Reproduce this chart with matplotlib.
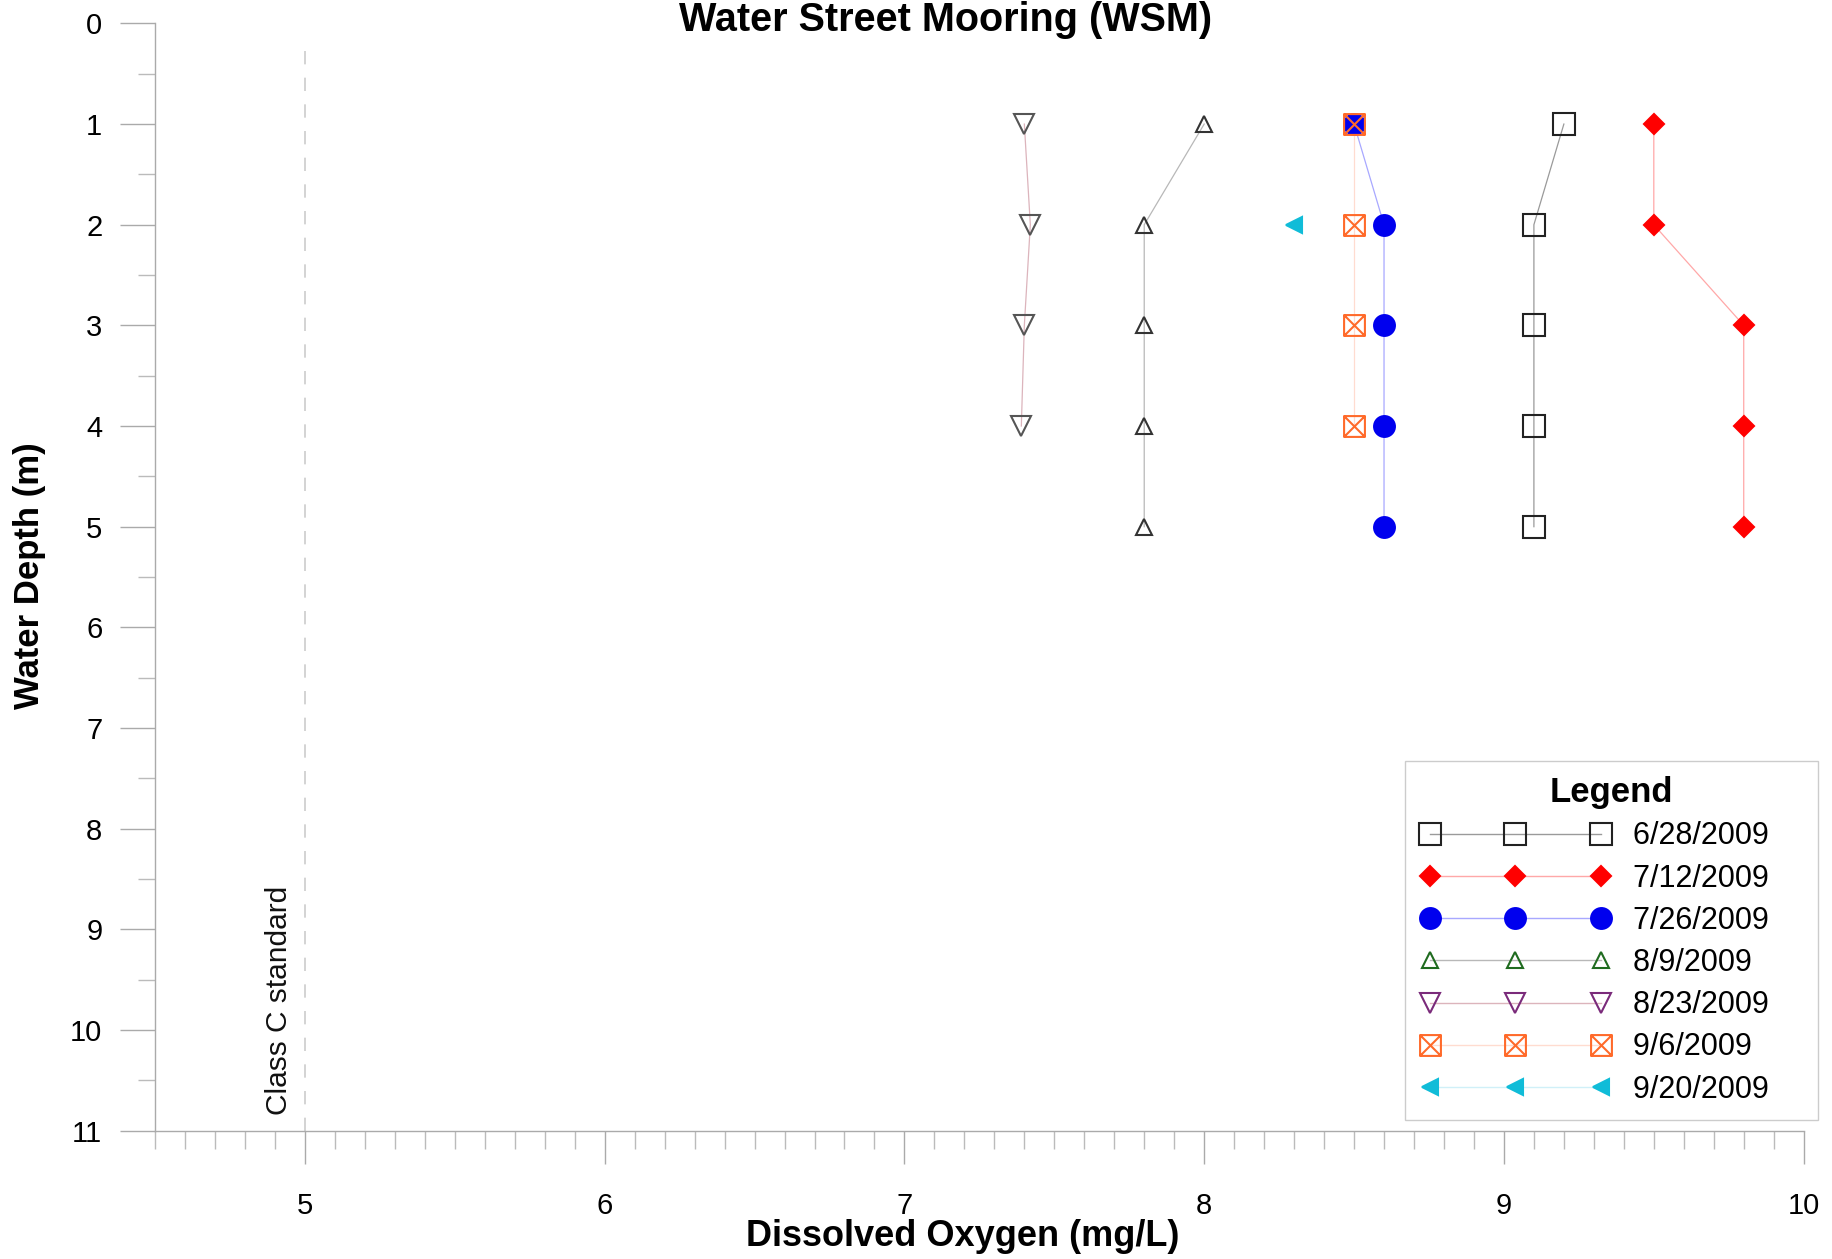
import numpy as np
import matplotlib
matplotlib.use("Agg")
import matplotlib.pyplot as plt
from matplotlib.path import Path
from matplotlib.lines import Line2D

plt.rcParams['font.family'] = ['Liberation Sans', 'DejaVu Sans']

# depth (m) for each survey and dissolved oxygen (mg/L)
dates = ["6/28/2009", "7/12/2009", "7/26/2009", "8/9/2009",
         "8/23/2009", "9/6/2009", "9/20/2009"]
depth_0628 = [1, 2, 3, 4, 5]
do_0628 = [9.2, 9.1, 9.1, 9.1, 9.1]
depth_0712 = [1, 2, 3, 4, 5]
do_0712 = [9.5, 9.5, 9.8, 9.8, 9.8]
depth_0726 = [1, 2, 3, 4, 5]
do_0726 = [8.5, 8.6, 8.6, 8.6, 8.6]
depth_0809 = [1, 2, 3, 4, 5]
do_0809 = [8.0, 7.8, 7.8, 7.8, 7.8]
depth_0823 = [1, 2, 3, 4]
do_0823 = [7.4, 7.42, 7.4, 7.39]
depth_0906 = [1, 2, 3, 4]
do_0906 = [8.5, 8.5, 8.5, 8.5]
depth_0920 = [2]
do_0920 = [8.3]

class_c_standard = 5.0

# square with an X through it
boxtimes = Path(
    [(-1, -1), (1, -1), (1, 1), (-1, 1), (-1, -1), (-1, -1), (1, 1), (-1, 1), (1, -1)],
    [Path.MOVETO, Path.LINETO, Path.LINETO, Path.LINETO, Path.CLOSEPOLY,
     Path.MOVETO, Path.LINETO, Path.MOVETO, Path.LINETO])

# (x, y, marker, marker colour in plot, fill, line colour, size, legend marker colour)
series = [
    (do_0628, depth_0628, 's', '#222222', 'none', '#9a9a9a', 16, '#222222'),
    (do_0712, depth_0712, 'D', '#ff0000', '#ff0000', '#ffa8a8', 10, '#ff0000'),
    (do_0726, depth_0726, 'o', '#0000ee', '#0000ee', '#a8a8ff', 15, '#0000ee'),
    (do_0809, depth_0809, '^', '#333333', 'none', '#b8b8b8', 12, '#1f6b1f'),
    (do_0823, depth_0823, 'v', '#555555', 'none', '#dcb4bc', 14, '#7a2a7a'),
    (do_0906, depth_0906, boxtimes, '#ff6a2a', 'none', '#ffdcd0', 15, '#ff6a2a'),
    (do_0920, depth_0920, '<', '#10bcd8', '#10bcd8', '#d0f0f8', 12, '#10bcd8'),
]

fig = plt.figure(figsize=(18.33, 12.59), dpi=100)
ax = fig.add_axes([0.0846, 0.102, 0.8994, 0.8794])

ax.axvline(class_c_standard, ymin=0, ymax=1 - 0.21 / 11, color='#cccccc',
           lw=1.2, ls=(0, (8, 8)), zorder=1)
ax.text(4.915, 10.85, "Class C standard", rotation=90, ha='center', va='bottom',
        fontsize=21.5, color='#111111')

handles = []
for i, (x, y, mk, mc, fc, lc, ms, legc) in enumerate(series):
    ax.plot(x, y, color=lc, lw=0.9, zorder=2)
    ax.plot(x, y, ls='none', marker=mk, ms=ms, mec=mc, mfc=fc, mew=1.5,
            zorder=3 + i)
    lfc = legc if fc != 'none' else 'none'
    handles.append(Line2D([], [], color=lc, lw=1.0, marker=mk, ms=ms,
                          mec=legc, mfc=lfc, mew=1.5))

ax.set_xlim(4.5, 10)
ax.set_ylim(11, 0)
ax.set_xticks(np.arange(5, 10.01, 1))
ax.set_xticks(np.arange(4.5, 10.001, 0.1), minor=True)
ax.set_yticks(np.arange(0, 12, 1))
ax.set_yticks(np.arange(0.5, 11, 1), minor=True)

for s in ['top', 'right']:
    ax.spines[s].set_visible(False)
for s in ['left', 'bottom']:
    ax.spines[s].set_color('#aaaaaa')
    ax.spines[s].set_linewidth(1.0)

ax.tick_params(axis='x', which='major', direction='out', length=24, width=1,
               color='#aaaaaa', labelsize=21, pad=20)
ax.tick_params(axis='x', which='minor', direction='out', length=13, width=1,
               color='#bbbbbb')
ax.tick_params(axis='y', which='major', direction='out', length=25, width=1,
               color='#aaaaaa', labelsize=21, pad=13)
ax.tick_params(axis='y', which='minor', direction='out', length=12, width=1,
               color='#bbbbbb')

ax.set_xlabel("Dissolved Oxygen (mg/L)", fontsize=26, fontweight='bold', va='center')
ax.xaxis.set_label_coords(0.49, -0.096)
ax.set_ylabel("Water Depth (m)", fontsize=25, fontweight='bold', va='center')
ax.yaxis.set_label_coords(-0.0764, 0.501)

fig.text(0.516, 0.9754, "Water Street Mooring (WSM)", ha='center', va='baseline',
         fontsize=28.5, fontweight='bold')

# trailing spaces give the wider right margin of the original legend box
leg = ax.legend(handles, [d + "    " for d in dates], title="Legend",
                loc='upper right', bbox_to_anchor=(0.9918, 0.3957),
                bbox_transform=fig.transFigure, borderaxespad=0, numpoints=3,
                handlelength=6.2, fontsize=22,
                title_fontproperties={'weight': 'bold', 'size': 25},
                labelspacing=0.4, handletextpad=0.75, frameon=True,
                fancybox=False, edgecolor='#cccccc', framealpha=1,
                borderpad=0.5)
leg.get_frame().set_linewidth(1.0)

fig.savefig("out.png", dpi=100)
